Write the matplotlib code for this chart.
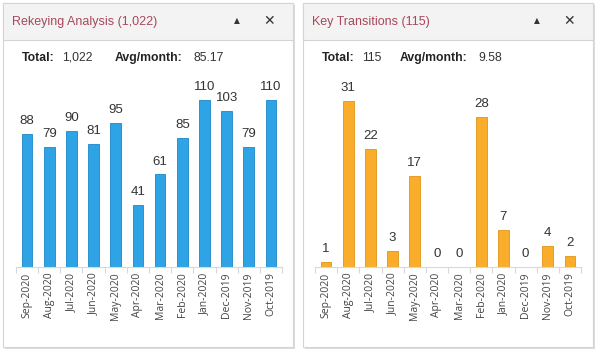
import matplotlib
matplotlib.use("Agg")
import matplotlib.pyplot as plt
from matplotlib.patches import Rectangle
import numpy as np

months = ["Sep-2020", "Aug-2020", "Jul-2020", "Jun-2020", "May-2020", "Apr-2020",
          "Mar-2020", "Feb-2020", "Jan-2020", "Dec-2019", "Nov-2019", "Oct-2019"]
rekeying = [88, 79, 90, 81, 95, 41, 61, 85, 110, 103, 79, 110]
transitions = [1, 31, 22, 3, 17, 0, 0, 28, 7, 0, 4, 2]

panels = [
    dict(title="Rekeying Analysis (1,022)", total="1,022", avg="85.17",
         values=rekeying, color="#2ea3e6", edge="#1d88c8", ymax=120,
         x0=3, x1=293, ax_left=16, avg_x=112, avgv_x=190),
    dict(title="Key Transitions (115)", total="115", avg="9.58",
         values=transitions, color="#f9ad2a", edge="#e0941a", ymax=34,
         x0=303, x1=593, ax_left=315, avg_x=97, avgv_x=175),
]

W, H = 600, 352
fig = plt.figure(figsize=(6, 3.52), dpi=100)
fig.patch.set_facecolor("white")

def fx(px):
    return px / W

def fy(py):
    return 1 - py / H

bg = fig.add_axes([0, 0, 1, 1])
bg.set_xlim(0, W)
bg.set_ylim(H, 0)
bg.axis("off")

for p in panels:
    x0, x1 = p["x0"], p["x1"]
    top, bot = 3, 347
    # shadow
    bg.add_patch(Rectangle((x0 + 2, top + 2), x1 - x0, bot - top, facecolor="#dcdcdc",
                           edgecolor="none", zorder=0))
    bg.add_patch(Rectangle((x0, top), x1 - x0, bot - top, facecolor="white",
                           edgecolor="#d4d4d4", lw=0.8, zorder=1))
    bg.add_patch(Rectangle((x0, top), x1 - x0, 37, facecolor="#f3f3f3",
                           edgecolor="#d4d4d4", lw=0.8, zorder=2))
    bg.text(x0 + 9, 22, p["title"], color="#a8485c", fontsize=9,
            family="Liberation Sans", va="center", ha="left", zorder=3)
    bg.text(x1 - 56, 21, "\u25b2", color="#333333", fontsize=5.5,
            family="DejaVu Sans", va="center", ha="center", zorder=3)
    bg.text(x1 - 24, 21.5, "\u2715", color="#333333", fontsize=10,
            family="DejaVu Sans", va="center", ha="center", zorder=3, fontweight="bold")
    bg.text(x0 + 19, 58, "Total:", color="#222222", fontsize=8.8, fontweight="bold",
            family="Liberation Sans", va="center", ha="left", zorder=3)
    bg.text(x0 + 59, 58, p["total"], color="#333333", fontsize=8.8,
            family="Liberation Sans", va="center", ha="left", zorder=3)
    bg.text(x0 + p["avg_x"], 58, "Avg/month:", color="#222222", fontsize=8.8, fontweight="bold",
            family="Liberation Sans", va="center", ha="left", zorder=3)
    bg.text(x0 + p["avgv_x"], 58, p["avg"], color="#333333", fontsize=8.8,
            family="Liberation Sans", va="center", ha="left", zorder=3)

    # chart axes
    base = 267
    ax_h = 182
    ax_w = 266
    ax = fig.add_axes([fx(p["ax_left"]), fy(base), fx(ax_w), ax_h / H])
    ax.patch.set_alpha(0)
    x = np.arange(len(months))
    vals = p["values"]
    ax.bar(x, vals, width=0.48, color=p["color"], edgecolor=p["edge"], linewidth=0.6, zorder=2)
    ax.set_xlim(-0.5, len(months) - 0.5)
    ax.set_ylim(0, p["ymax"])
    for xi, v in zip(x, vals):
        ax.annotate(str(v), (xi, v), xytext=(0, 5), textcoords="offset points",
                    ha="center", va="bottom", fontsize=9.5, color="#333333",
                    family="Liberation Sans")
    for s in ["top", "right", "left"]:
        ax.spines[s].set_visible(False)
    ax.spines["bottom"].set_color("#d8d8d8")
    ax.spines["bottom"].set_linewidth(0.8)
    ax.set_yticks([])
    ax.set_xticks(x)
    ax.set_xticklabels(months, rotation=90, fontsize=7.5, color="#444444", family="Open Sans")
    ax.tick_params(axis="x", length=0, pad=4)
    ax.set_xticks(np.arange(-0.5, len(months), 1), minor=True)
    ax.tick_params(axis="x", which="minor", length=4, color="#d8d8d8", width=0.8)

fig.savefig("out.png", dpi=100, facecolor="white")
